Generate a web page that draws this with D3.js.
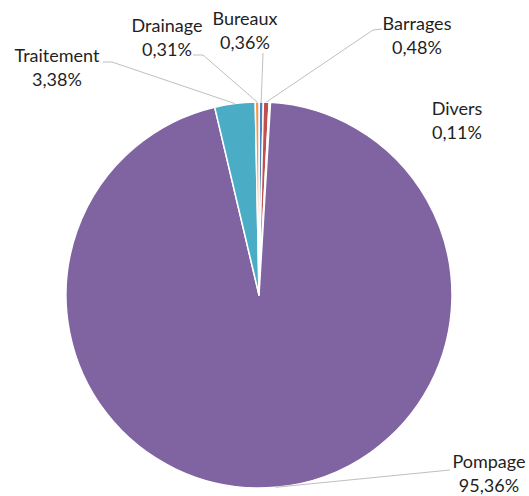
<!DOCTYPE html>
<html>
<head>
  <meta charset="utf-8">
  <script src="https://d3js.org/d3.v7.min.js"></script>
  <style>
    body { margin: 0; background: white; }
    .lbl { font-family: Lato, "Open Sans", sans-serif; font-size: 18px; fill: #1f1f1f; }
    .leader { fill: none; stroke: #bfbfbf; stroke-width: 1; }
  </style>
</head>
<body>
  <div id="chart"></div>
  <script>
    // data (clockwise from 12 o'clock)
    var categories = ["Bureaux", "Barrages", "Divers", "Pompage", "Traitement", "Drainage"];
    var shares = [0.36, 0.48, 0.11, 95.36, 3.38, 0.31];
    var labels = ["0,36%", "0,48%", "0,11%", "95,36%", "3,38%", "0,31%"];

    var width = 529, height = 496;
    var cx = 259, cy = 295, radius = 193;

    var colors = d3.scaleOrdinal()
      .domain(categories)
      .range(["#4F81BD", "#C0504D", "#9BBB59", "#8064A2", "#4BACC6", "#F79646"]);

    // where each label sits (text centre x, first baseline) and the leader start
    var layout = {
      "Bureaux":    { x: 245, y: 25, lead: [[263, 53]] },
      "Barrages":   { x: 417, y: 30, lead: [[382, 29], [373, 30]] },
      "Divers":     { x: 457, y: 115, lead: null },
      "Pompage":    { x: 489, y: 468, lead: [[450, 470]] },
      "Traitement": { x: 57,  y: 62, lead: [[103, 62], [112, 62]] },
      "Drainage":   { x: 167, y: 32, lead: [[193, 55], [203, 55]] }
    };

    var svg = d3.select("#chart").append("svg")
      .attr("width", width)
      .attr("height", height);

    var pie = d3.pie().sort(null).value(function (d) { return d.v; });
    var rows = categories.map(function (c, i) { return { name: c, v: shares[i], txt: labels[i] }; });
    var arcs = pie(rows);

    var arc = d3.arc().innerRadius(0).outerRadius(radius);
    var edge = d3.arc().innerRadius(radius).outerRadius(radius);

    var g = svg.append("g").attr("transform", "translate(" + cx + "," + cy + ")");

    g.selectAll("path.slice")
      .data(arcs)
      .enter().append("path")
      .attr("class", "slice")
      .attr("d", arc)
      .attr("fill", function (d) { return colors(d.data.name); })
      .attr("stroke", "white")
      .attr("stroke-width", 1.5)
      .attr("stroke-linejoin", "round");

    // leader lines
    var line = d3.line();
    arcs.forEach(function (d) {
      var L = layout[d.data.name];
      if (!L.lead) return;
      var c = edge.centroid(d);
      var pts = L.lead.slice();
      pts.push([c[0] + cx, c[1] + cy]);
      svg.append("path")
        .attr("class", "leader")
        .attr("d", line(pts));
    });

    // labels
    arcs.forEach(function (d) {
      var L = layout[d.data.name];
      var t = svg.append("text")
        .attr("class", "lbl")
        .attr("text-anchor", "middle");
      t.append("tspan").attr("x", L.x).attr("y", L.y).text(d.data.name);
      t.append("tspan").attr("x", L.x).attr("y", L.y + 23.5).text(d.data.txt);
    });
  </script>
</body>
</html>
